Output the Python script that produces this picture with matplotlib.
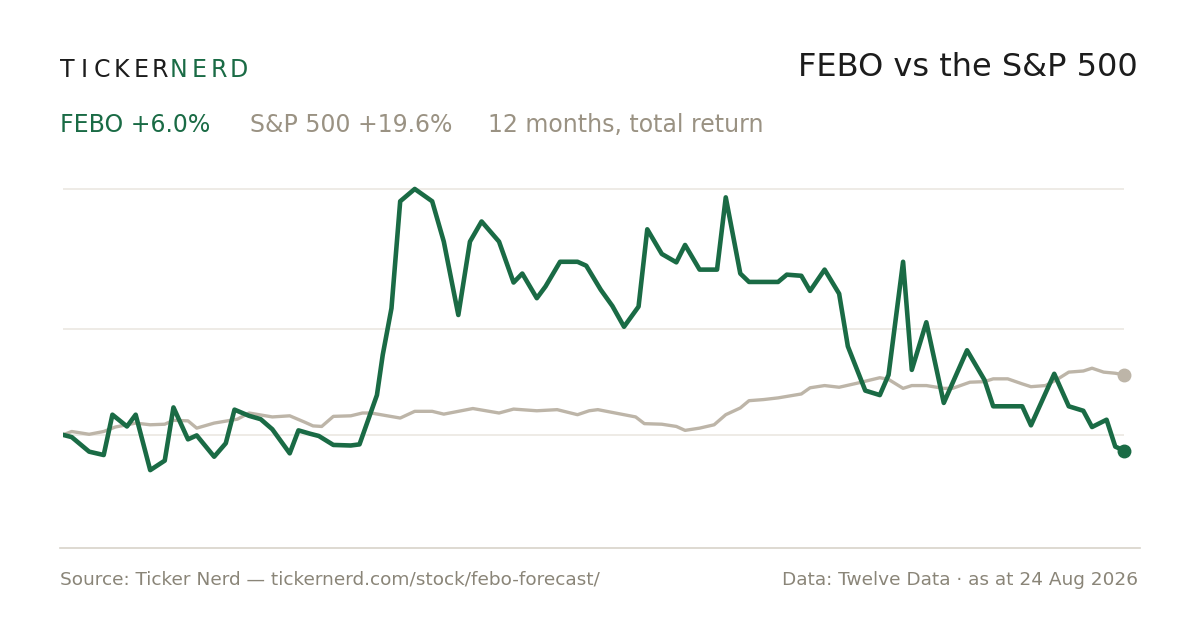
import matplotlib.pyplot as plt
from matplotlib.lines import Line2D

# day index within the 12-month window, cumulative return (%) rebased to the window start
febo_days = [0, 3, 9, 14, 17, 22, 25, 30, 35, 38, 43, 46, 52, 56, 59, 64, 68, 72, 78, 81,
             85, 88, 93, 99, 102, 105, 108, 110, 113, 116, 121, 127, 131, 136, 140, 144, 150,
             155, 158, 163, 166, 171, 177, 180, 185, 189, 193, 198, 201, 206, 211, 214, 219,
             225, 228, 233, 236, 246, 249, 254, 257, 262, 267, 270, 276, 281, 284, 289, 292,
             297, 303, 311, 317, 320, 330, 333, 341, 346, 351, 354, 359, 362, 365]
febo_vals = [0.0, -0.4, -3.0, -3.6, 3.6, 1.5, 3.6, -6.3, -4.6, 4.9, -0.8, -0.1, -3.9, -1.5,
             4.5, 3.4, 2.8, 1.0, -3.3, 0.8, 0.2, -0.2, -1.8, -1.9, -1.7, 2.7, 7.1, 14.3, 22.6,
             41.7, 43.9, 41.7, 34.5, 21.4, 34.5, 38.1, 34.5, 27.2, 28.8, 24.4, 26.5, 30.9, 30.9,
             30.2, 25.9, 23.0, 19.3, 22.9, 36.7, 32.3, 30.8, 33.9, 29.5, 29.5, 42.4, 28.8, 27.3,
             27.3, 28.6, 28.4, 25.7, 29.5, 25.2, 15.8, 7.9, 7.1, 10.7, 30.9, 11.6, 20.1, 5.7,
             15.1, 9.8, 5.1, 5.1, 1.7, 10.9, 5.1, 4.3, 1.4, 2.7, -2.1, -2.8]

spx_days = [0, 3, 9, 14, 18, 25, 30, 35, 38, 43, 46, 52, 60, 64, 72, 78, 83, 86, 89, 93, 99,
            103, 106, 116, 121, 127, 131, 141, 150, 155, 163, 170, 177, 181, 184, 193, 197,
            200, 206, 211, 214, 219, 224, 228, 233, 236, 241, 246, 254, 257, 262, 267, 273,
            281, 284, 289, 292, 297, 303, 306, 312, 317, 320, 325, 330, 333, 338, 342, 346,
            351, 354, 358, 362, 365]
spx_vals = [0.0, 0.6, 0.1, 0.6, 1.4, 2.1, 1.8, 1.9, 2.6, 2.5, 1.2, 2.1, 2.8, 3.9, 3.2, 3.4,
            2.3, 1.6, 1.5, 3.3, 3.4, 3.9, 3.9, 3.0, 4.2, 4.2, 3.7, 4.7, 3.9, 4.6, 4.3, 4.5, 3.6,
            4.3, 4.5, 3.6, 3.2, 2.0, 1.9, 1.5, 0.8, 1.2, 1.8, 3.6, 4.8, 6.1, 6.3, 6.6, 7.3, 8.4,
            8.8, 8.5, 9.2, 10.2, 9.9, 8.3, 8.8, 8.8, 8.3, 8.3, 9.4, 9.5, 10.0, 10.0, 9.1, 8.6,
            8.8, 9.9, 11.2, 11.4, 11.9, 11.2, 11.0, 10.7]

grid_levels = [0, 18.9, 43.9]

GREEN = "#1a6b45"
SPX = "#bdb5a8"
MUTED = "#9a9283"
INK = "#1c1c1c"

fig = plt.figure(figsize=(12, 6.3), dpi=100)
fig.patch.set_facecolor("white")
ax = fig.add_axes([63 / 1200, 82 / 630, 1061 / 1200, 368 / 630])
ax.set_xlim(0, 365)
ax.set_ylim(-20.2, 45.5)
ax.axis("off")

for g in grid_levels:
    ax.axhline(g, color="#ebe8e2", lw=1.2, zorder=1)

ax.plot(spx_days, spx_vals, color=SPX, lw=2.4, zorder=2, solid_joinstyle="round")
ax.plot(febo_days, febo_vals, color=GREEN, lw=3.3, zorder=3, solid_joinstyle="round")
ax.plot(spx_days[-1], spx_vals[-1], "o", color=SPX, ms=9, zorder=4, clip_on=False)
ax.plot(febo_days[-1], febo_vals[-1], "o", color=GREEN, ms=9, zorder=4, clip_on=False)

fig.add_artist(Line2D([60 / 1200, 1140 / 1200], [82 / 630, 82 / 630], color="#d8d3ca", lw=1.2))

# letter-spaced wordmark, one glyph at a time
for ch, px in zip("TICKER", [60, 81, 94, 114, 134, 152]):
    fig.text(px / 1200, 1 - 70 / 630, ch, color=INK, fontsize=17, va="center")
for ch, px in zip("NERD", [170, 192, 211, 230]):
    fig.text(px / 1200, 1 - 70 / 630, ch, color=GREEN, fontsize=17, va="center")

fig.text(1138 / 1200, 1 - 68 / 630, "FEBO vs the S&P 500", color=INK, fontsize=23,
         ha="right", va="center")

fig.text(60 / 1200, 1 - 125 / 630, "FEBO +6.0%", color=GREEN, fontsize=17, va="center")
fig.text(250 / 1200, 1 - 125 / 630, "S&P 500 +19.6%", color=MUTED, fontsize=17, va="center")
fig.text(488 / 1200, 1 - 125 / 630, "12 months, total return", color=MUTED, fontsize=17,
         va="center")

fig.text(60 / 1200, 1 - 580 / 630, "Source: Ticker Nerd \u2014 tickernerd.com/stock/febo-forecast/",
         color="#8a8578", fontsize=13.3, va="center")
fig.text(1138 / 1200, 1 - 580 / 630, "Data: Twelve Data \u00b7 as at 24 Aug 2026",
         color="#8a8578", fontsize=13.3, ha="right", va="center")

fig.savefig("out.png", dpi=100)
